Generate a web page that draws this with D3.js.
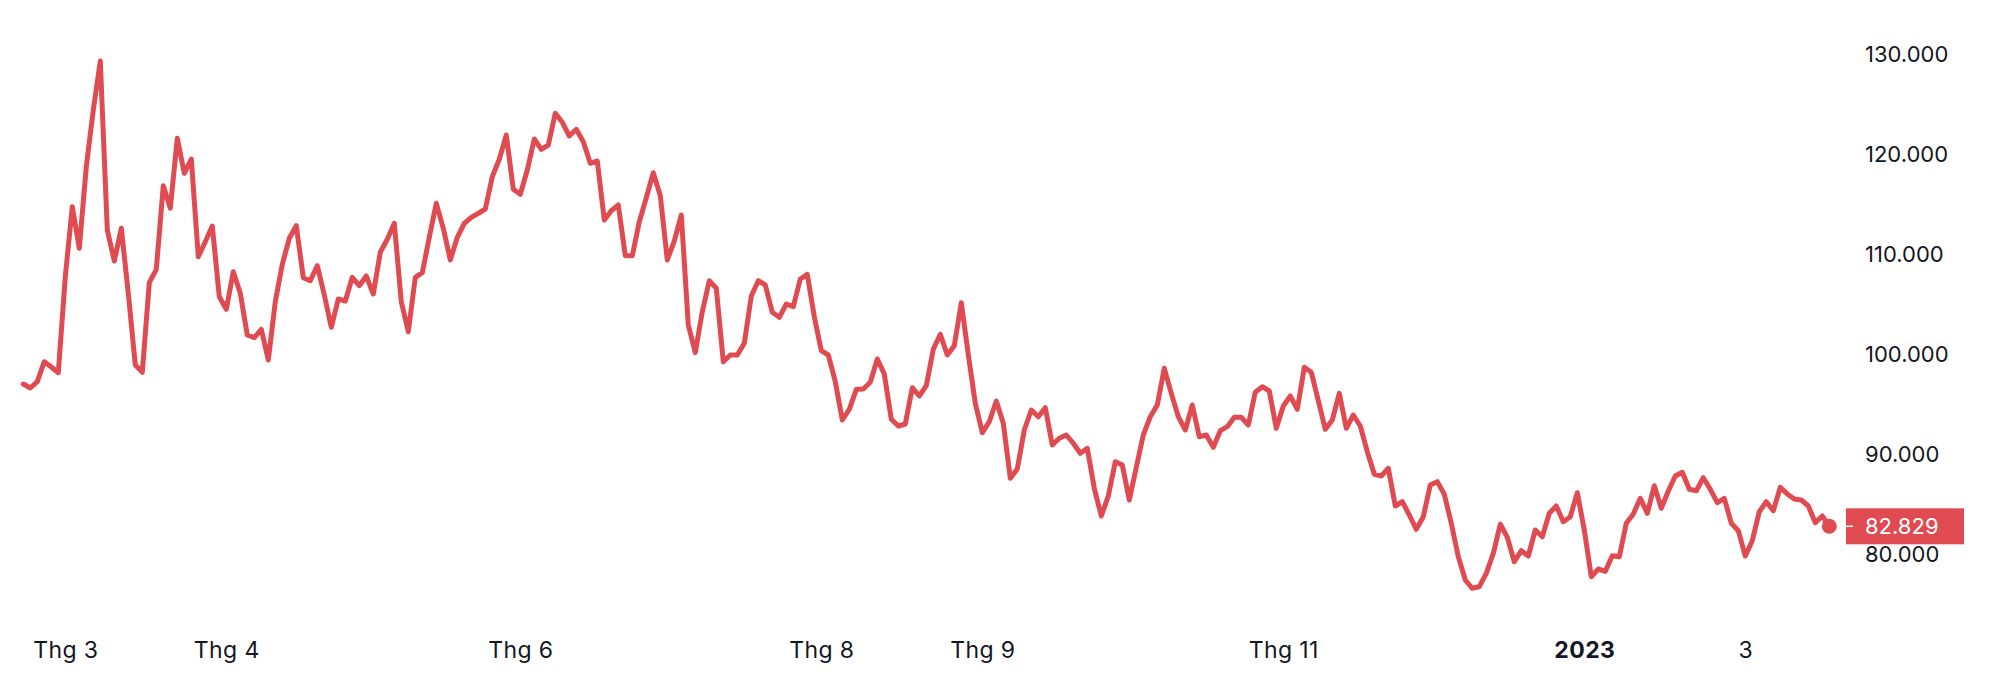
<!DOCTYPE html>
<html>
<head>
<meta charset="utf-8">
<script src="https://cdn.jsdelivr.net/npm/d3@7"></script>
<style>
  html, body { margin: 0; padding: 0; background: #ffffff; }
  svg { display: block; }
  text { font-family: Inter, "Noto Sans", sans-serif; }
</style>
</head>
<body>
<svg id="chart" width="1990" height="694"></svg>
<script>
// ---- data ----
const prices = [
  97060, 96660, 97290, 99290, 98760, 98190, 107790, 114790, 110630, 118790,
  124460, 129360, 112460, 109360, 112630, 106130, 98960, 98230, 107190, 108530,
  116890, 114630, 121630, 118130, 119560, 109790, 111290, 112860, 105790, 104530,
  108290, 106130, 101960, 101690, 102530, 99460, 105290, 109030, 111630, 112890,
  107690, 107390, 108890, 105960, 102730, 105560, 105360, 107730, 106890, 107860,
  106060, 110230, 111530, 113130, 105290, 102290, 107730, 108190, 111730, 115130,
  112630, 109460, 111730, 113130, 113730, 114130, 114560, 117790, 119530, 121960,
  116530, 116030, 118460, 121560, 120530, 120960, 124130, 123230, 121860, 122530,
  121290, 119130, 119360, 113460, 114390, 114960, 109890, 109890, 113290, 115690,
  118190, 115890, 109460, 111360, 113960, 102960, 100190, 104290, 107390, 106630,
  99290, 99960, 99960, 101130, 105860, 107390, 106960, 104230, 103730, 105060,
  104790, 107560, 108030, 103790, 100390, 99960, 97290, 93460, 94530, 96530,
  96560, 97230, 99560, 98060, 93530, 92860, 93060, 96690, 95860, 96890,
  100530, 102030, 99960, 100890, 105190, 100000, 95130, 92190, 93290, 95360,
  93130, 87630, 88560, 92460, 94460, 93790, 94690, 90960, 91630, 91960,
  91130, 90130, 90630, 86630, 83860, 85860, 89290, 88960, 85460, 88730,
  91960, 93790, 94960, 98630, 96130, 93790, 92460, 94960, 91790, 91960,
  90730, 92390, 92790, 93730, 93730, 92960, 96230, 96790, 96360, 92630,
  94860, 95860, 94530, 98730, 98230, 95390, 92530, 93460, 96130, 92630,
  93960, 92860, 90290, 88030, 87860, 88630, 84860, 85290, 83960, 82530,
  83790, 86960, 87290, 86030, 83130, 79790, 77460, 76630, 76790, 78130,
  80130, 83030, 81730, 79290, 80390, 79860, 82460, 81790, 84130, 84860,
  83290, 83790, 86190, 82460, 77790, 78560, 78330, 79890, 79790, 83130,
  84060, 85630, 84130, 86890, 84630, 86360, 87860, 88230, 86530, 86390,
  87690, 86530, 85190, 85630, 83130, 82390, 79860, 81390, 84290, 85290,
  84390, 86730, 86060, 85560, 85460, 84860, 83190, 83860, 82829
];
// bar index where each month label sits, and its text
const monthTickIndex = [6, 29, 71, 114, 137, 180, 223, 246];
const monthTickLabel = ["Thg 3", "Thg 4", "Thg 6", "Thg 8", "Thg 9", "Thg 11", "2023", "3"];
const boldTickLabel = ["2023"];
const priceTicks = [80000, 90000, 100000, 110000, 120000, 130000];
const priceDomain = [80000, 130000];

// ---- drawing ----
const RED = "#e04a51";
const TEXT = "#131722";
const svg = d3.select("#chart");

const x = d3.scaleLinear().domain([0, prices.length - 1]).range([23.3, 1829.3]);
const y = d3.scaleLinear().domain(priceDomain).range([554.6, 54.6]);

const vn = d3.formatLocale({ decimal: ",", thousands: ".", grouping: [3], currency: ["", ""] });
const fmt = vn.format(",.0f");

// y axis (right)
const yAxis = d3.axisRight(y).tickValues(priceTicks).tickFormat(fmt).tickSize(0).tickPadding(0);
const gy = svg.append("g").attr("transform", "translate(1865,0)").call(yAxis);
gy.select(".domain").remove();
gy.selectAll("text").attr("fill", TEXT).style("font-size", "22px").attr("text-anchor", "start");

// x axis
const xAxis = d3.axisBottom(x).tickValues(monthTickIndex)
  .tickFormat((d, i) => monthTickLabel[i]).tickSize(0).tickPadding(0);
const gx = svg.append("g").attr("transform", "translate(0,642)").call(xAxis);
gx.select(".domain").remove();
gx.selectAll("text").attr("fill", TEXT).style("font-size", "23px").style("letter-spacing", "0.4px")
  .style("font-weight", (d, i) => boldTickLabel.includes(monthTickLabel[i]) ? "700" : "400");

// line
const line = d3.line().x((d, i) => x(i)).y(d => y(d));
svg.append("path").datum(prices)
  .attr("d", line)
  .attr("fill", "none")
  .attr("stroke", RED)
  .attr("stroke-width", 5)
  .attr("stroke-linejoin", "round")
  .attr("stroke-linecap", "round");

// last value dot
const lastI = prices.length - 1;
const last = prices[lastI];
svg.append("circle").attr("cx", x(lastI)).attr("cy", y(last)).attr("r", 7.5).attr("fill", RED);

// last value label
const ly = y(last);
svg.append("rect").attr("x", 1846).attr("y", ly - 18).attr("width", 118).attr("height", 36).attr("fill", RED);
svg.append("line").attr("x1", 1846).attr("x2", 1853).attr("y1", ly).attr("y2", ly)
  .attr("stroke", "#ffffff").attr("stroke-width", 1.5);
svg.append("text").attr("x", 1865).attr("y", ly).attr("dy", "0.35em")
  .attr("fill", "#ffffff").style("font-size", "22px").text(fmt(last));
</script>
</body>
</html>
